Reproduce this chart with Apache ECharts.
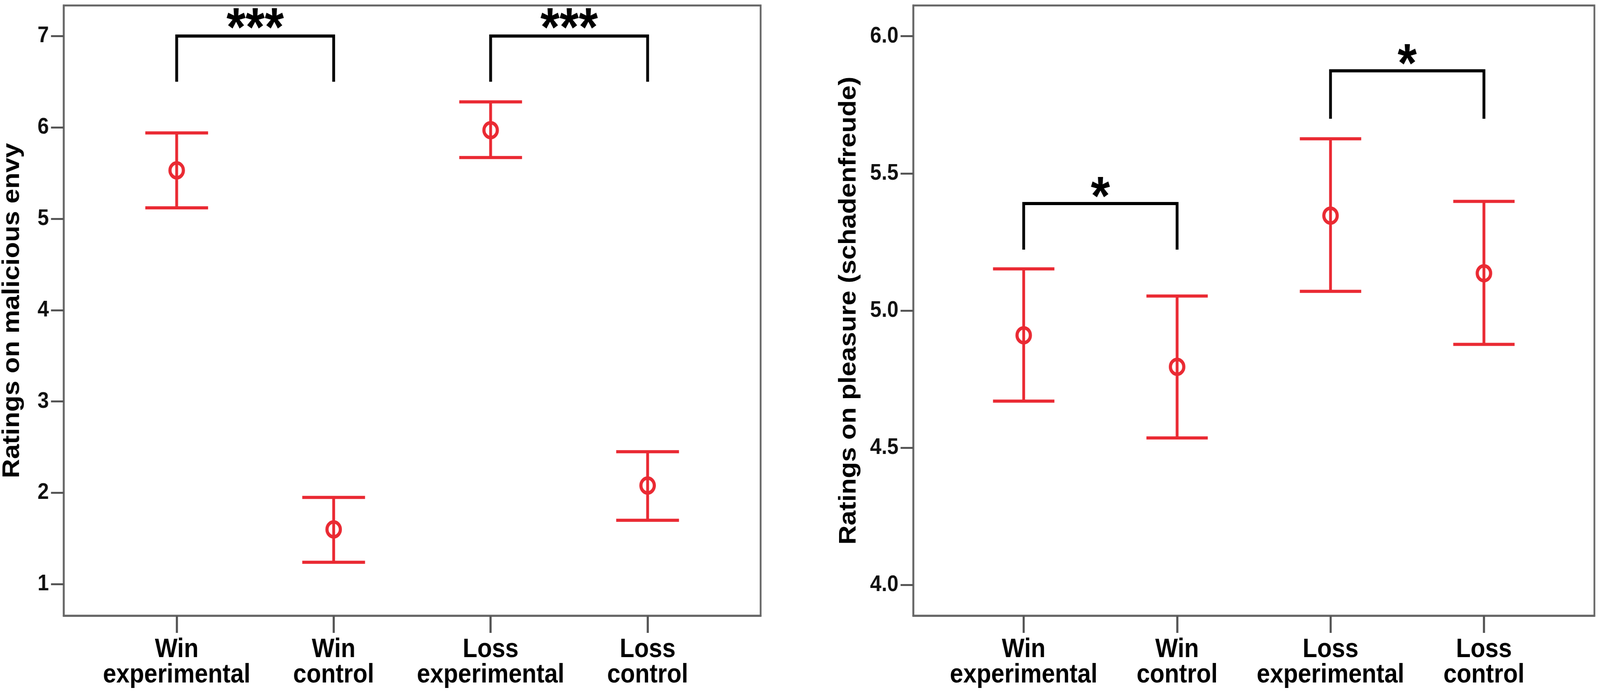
<!DOCTYPE html>
<html><head><meta charset="utf-8">
<script src="https://cdn.jsdelivr.net/npm/echarts@6/dist/echarts.min.js"></script>
<style>html,body{margin:0;padding:0;background:#fff;overflow:hidden}#c{width:4550px;height:1779px;transform-origin:0 0}</style>
</head><body><div id="c"></div>
<script>
// ---- data ----
const categories = ['Win\nexperimental', 'Win\ncontrol', 'Loss\nexperimental', 'Loss\ncontrol'];
const positions = [1, 2, 3, 4];

const envyMean  = [5.53, 1.60, 5.97, 2.08];
const envyLower = [5.12, 1.24, 5.67, 1.70];
const envyUpper = [5.94, 1.95, 6.28, 2.45];

const pleasureMean  = [4.91, 4.795, 5.346, 5.136];
const pleasureLower = [4.67, 4.536, 5.07, 4.877];
const pleasureUpper = [5.152, 5.053, 5.626, 5.398];

const envyTicks = [1, 2, 3, 4, 5, 6, 7];
const pleasureTicks = [4.0, 4.5, 5.0, 5.5, 6.0];

const envyBrackets = [[1, 2, 7.0, 6.5], [3, 4, 7.0, 6.5]];
const envyStars = ['***', '***'];
const pleasureBrackets = [[1, 2, 5.39, 5.222], [3, 4, 5.874, 5.699]];
const pleasureStars = ['*', '*'];

const envyTitle = 'Ratings on malicious envy';
const pleasureTitle = 'Ratings on pleasure (schadenfreude)';

// ---- style ----
const RED = '#ea2a33';
const FRAME = '#666666';
const FONT = '"Liberation Sans", Arial, sans-serif';
const CAP = 0.2;

// fit the 4550x1779 design into whatever viewport the browser has
const box = document.getElementById('c');
box.style.transform = 'scale(' + (window.innerWidth / 4550) + ',' + (window.innerHeight / 1779) + ')';

function xAxisCfg(gi) {
  return {
    type: 'value', gridIndex: gi, min: 0.28, max: 4.72,
    axisLine: { show: true, lineStyle: { color: FRAME, width: 5 } },
    axisTick: { show: true, customValues: positions, length: 44, lineStyle: { color: '#555', width: 6 } },
    axisLabel: {
      customValues: positions,
      formatter: v => categories[positions.indexOf(Math.round(v))],
      fontSize: 68, fontWeight: 'bold', lineHeight: 65, margin: 55, color: '#000', fontFamily: FONT
    },
    splitLine: { show: false }
  };
}
function yAxisCfg(gi, min, max, ticks, fmt, name, gap) {
  return {
    type: 'value', gridIndex: gi, min: min, max: max,
    axisLine: { show: true, lineStyle: { color: FRAME, width: 5 } },
    axisTick: { show: true, customValues: ticks, length: 36, lineStyle: { color: '#555', width: 5 } },
    axisLabel: { customValues: ticks, formatter: fmt, fontSize: 58, fontWeight: 'bold', margin: 42, color: '#111', fontFamily: FONT },
    splitLine: { show: false },
    name: name, nameLocation: 'middle', nameGap: gap,
    nameTextStyle: { fontSize: 68, fontWeight: 'bold', color: '#000', fontFamily: FONT }
  };
}
function errorSeries(idx, lo, hi) {
  return {
    type: 'custom', xAxisIndex: idx, yAxisIndex: idx, silent: true, z: 2,
    data: positions.map((x, i) => [x, lo[i], hi[i]]),
    encode: { x: 0, y: [1, 2] },
    renderItem: function (params, api) {
      const x = api.value(0), l = api.value(1), h = api.value(2);
      const pl = api.coord([x, l]), ph = api.coord([x, h]);
      const ll = api.coord([x - CAP, l]), lr = api.coord([x + CAP, l]);
      const hl = api.coord([x - CAP, h]), hr = api.coord([x + CAP, h]);
      const st = { stroke: RED, lineWidth: 8, fill: null };
      return { type: 'group', children: [
        { type: 'line', shape: { x1: pl[0], y1: pl[1], x2: ph[0], y2: ph[1] }, style: st },
        { type: 'line', shape: { x1: ll[0], y1: ll[1], x2: lr[0], y2: lr[1] }, style: st },
        { type: 'line', shape: { x1: hl[0], y1: hl[1], x2: hr[0], y2: hr[1] }, style: st }
      ] };
    }
  };
}
function meanSeries(idx, means) {
  return {
    type: 'scatter', xAxisIndex: idx, yAxisIndex: idx, silent: true, z: 3,
    data: positions.map((x, i) => [x, means[i]]),
    symbol: 'circle', symbolSize: 38,
    itemStyle: { color: 'rgba(255,255,255,0)', borderColor: RED, borderWidth: 9, opacity: 1 }
  };
}
function bracketSeries(idx, brackets, stars, starOffset) {
  return {
    type: 'custom', xAxisIndex: idx, yAxisIndex: idx, silent: true, z: 4,
    data: brackets,
    encode: { x: [0, 1], y: [2, 3] },
    renderItem: function (params, api) {
      const x1 = api.value(0), x2 = api.value(1), yt = api.value(2), yb = api.value(3);
      const a = api.coord([x1, yb]), b = api.coord([x1, yt]), c = api.coord([x2, yt]), d = api.coord([x2, yb]);
      return { type: 'group', children: [
        { type: 'polyline', shape: { points: [a, b, c, d] }, style: { stroke: '#000', lineWidth: 8, fill: null, lineJoin: 'miter' } },
        { type: 'text', x: (b[0] + c[0]) / 2, y: b[1] - starOffset,
          style: { text: stars[params.dataIndex], fontSize: 140, fontWeight: 'bold', fontFamily: FONT,
                   textAlign: 'center', textVerticalAlign: 'middle', fill: '#000' } }
      ] };
    }
  };
}

const chart = echarts.init(box, null, { renderer: 'canvas', width: 4550, height: 1779 });
chart.setOption({
  animation: false,
  backgroundColor: '#fff',
  grid: [
    { left: 181, top: 14, width: 1982, height: 1562, show: true, borderColor: FRAME, borderWidth: 5, containLabel: false, outerBoundsMode: 'none' },
    { left: 2597, top: 14, width: 1937, height: 1562, show: true, borderColor: FRAME, borderWidth: 5, containLabel: false, outerBoundsMode: 'none' }
  ],
  xAxis: [xAxisCfg(0), xAxisCfg(1)],
  yAxis: [
    yAxisCfg(0, 0.655, 7.335, envyTicks, v => String(Math.round(v)), envyTitle, 112),
    yAxisCfg(1, 3.888, 6.112, pleasureTicks, v => Number(v).toFixed(1), pleasureTitle, 149)
  ],
  series: [
    errorSeries(0, envyLower, envyUpper),
    meanSeries(0, envyMean),
    bracketSeries(0, envyBrackets, envyStars, 14),
    errorSeries(1, pleasureLower, pleasureUpper),
    meanSeries(1, pleasureMean),
    bracketSeries(1, pleasureBrackets, pleasureStars, 11)
  ]
});
</script>
</body></html>
